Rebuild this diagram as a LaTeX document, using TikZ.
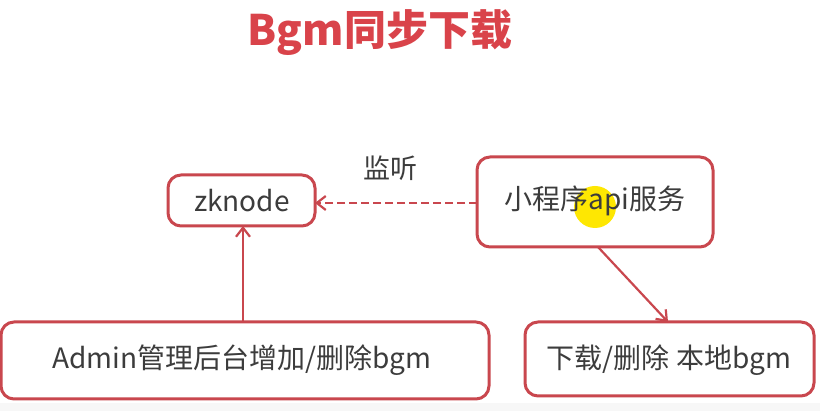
\documentclass[tikz,border=0pt]{standalone}
\usepackage{fontspec}
\setmainfont{Noto Sans CJK SC}
\usetikzlibrary{arrows.meta}
\definecolor{boxred}{HTML}{C9474E}
\definecolor{titlered}{HTML}{D9434A}
\definecolor{txt}{HTML}{3C3C3C}
\tikzset{
  x=1pt,y=-1pt,
  rbox/.style={draw=boxred,line width=3pt,rounded corners=13pt,fill=white},
  lab/.style={text=txt,font=\fontsize{28}{32}\selectfont,inner sep=0pt},
  conn/.style={draw=boxred,line width=2.2pt,-{Straight Barb[length=9pt,width=14pt,line width=2.2pt]}}
}
\begin{document}
\begin{tikzpicture}
\useasboundingbox[fill=white] (0,0) rectangle (820,411);
\fill[gray!6] (0,403) rectangle (820,411);
\node[text=titlered,font=\fontsize{42}{48}\selectfont\bfseries] (title) at (380,33) {Bgm同步下载};
% boxes
\draw[rbox] (168,175) rectangle (315,226);
\node[lab] (zk) at (242,201) {zknode};
\coordinate (zkR) at (315,203);
\coordinate (zkB) at (243,226);
\draw[rbox] (477,157) rectangle (713,247);
\fill[yellow!90!orange] (595,207) circle (21);
\node[lab] (api) at (595,201) {小程序api服务};
\coordinate (apiL) at (477,203);
\coordinate (apiB) at (598,247);
\draw[rbox] (1,322) rectangle (489,399);
\node[lab] (admin) at (242,360) {Admin管理后台增加/删除bgm};
\coordinate (adT) at (243,322);
\draw[rbox] (525,322) rectangle (814,396);
\node[lab] (local) at (669,360) {下载/删除 本地bgm};
\coordinate (loT) at (668,322);
% connectors
\draw[conn,dashed,dash pattern=on 8pt off 4pt] (apiL) -- (zkR);
\node[lab,font=\fontsize{27}{31}\selectfont] (lbl) at (390,168) {监听};
\draw[conn] (adT) -- (zkB);
\draw[conn] (apiB) -- (loT);
\end{tikzpicture}
\end{document}
